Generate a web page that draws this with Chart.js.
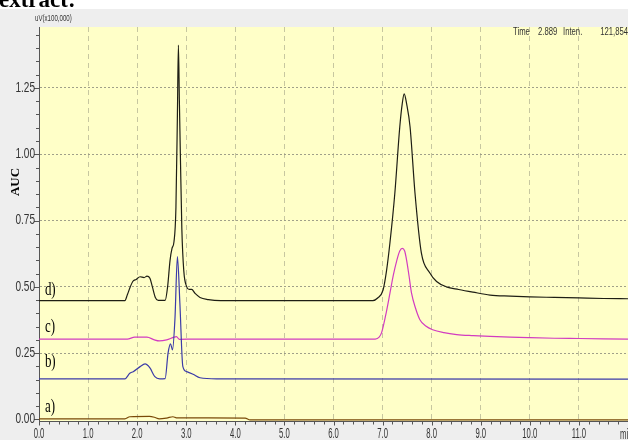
<!DOCTYPE html>
<html lang="en">
<head>
<meta charset="UTF-8">
<title>Chromatogram</title>
<script src="https://cdn.jsdelivr.net/npm/chart.js"></script>
<style>
  html, body { margin: 0; padding: 0; background: #fff; }
</style>
</head>
<body>
<canvas id="chrom" width="628" height="440"></canvas>
<script>
// retention time (min) and response (uV x100,000)
const aTime = [0, 1.75, 1.85, 2.25, 2.35, 2.45, 2.6, 2.73, 2.8, 4.2, 4.3, 12];
const aVal  = [0.002, 0.002, 0.01, 0.011, 0.008, 0.002, 0.005, 0.01, 0.006, 0.005, -0.002, -0.002];

const bTime = [0, 1.75, 1.85, 1.92, 2.06, 2.16, 2.26, 2.36, 2.46, 2.57, 2.63, 2.68, 2.72, 2.77, 2.82, 2.87, 2.93, 3.01, 3.14, 3.28, 3.62, 12];
const bVal  = [0.153, 0.153, 0.174, 0.18, 0.199, 0.209, 0.194, 0.161, 0.153, 0.154, 0.251, 0.285, 0.262, 0.38, 0.614, 0.439, 0.2, 0.18, 0.17, 0.157, 0.153, 0.152];

const cTime = [0, 1.8, 1.95, 2.2, 2.35, 2.45, 2.6, 2.75, 2.8, 2.86, 3.2, 6.85, 6.93, 6.98, 7.06, 7.15, 7.22, 7.29, 7.35, 7.4, 7.45, 7.49, 7.54, 7.59, 7.67, 7.76, 7.88, 8.02, 8.25, 8.51, 8.85, 9.19, 9.6, 10.0, 10.5, 11.0, 11.5, 12.0];
const cVal  = [0.303, 0.303, 0.31, 0.31, 0.3, 0.296, 0.3, 0.31, 0.312, 0.302, 0.303, 0.303, 0.31, 0.327, 0.39, 0.476, 0.545, 0.6, 0.635, 0.645, 0.635, 0.6, 0.54, 0.476, 0.42, 0.376, 0.352, 0.338, 0.327, 0.32, 0.316, 0.313, 0.31, 0.308, 0.306, 0.305, 0.304, 0.303];

const dTime = [0, 1.75, 1.8, 1.86, 1.91, 1.98, 2.06, 2.14, 2.2, 2.26, 2.31, 2.37, 2.43, 2.57, 2.62, 2.67, 2.71, 2.75, 2.79, 2.82, 2.84, 2.86, 2.88, 2.91, 2.95, 3.01, 3.06, 3.11, 3.18, 3.28, 3.45, 3.7,
               6.8, 6.9, 7.01, 7.08, 7.15, 7.25, 7.35, 7.4, 7.44, 7.49, 7.56, 7.66, 7.79, 7.96, 8.1, 8.3, 8.55, 8.84, 9.19, 9.6, 10.0, 10.5, 11.0, 11.5, 12.0];
const dVal  = [0.448, 0.448, 0.47, 0.5, 0.52, 0.528, 0.538, 0.535, 0.54, 0.532, 0.5, 0.46, 0.449, 0.449, 0.5, 0.6, 0.645, 0.67, 0.8, 1.15, 1.412, 1.2, 1.0, 0.72, 0.56, 0.5, 0.49, 0.49, 0.475, 0.46, 0.452, 0.448,
               0.448, 0.458, 0.488, 0.56, 0.666, 0.854, 1.103, 1.19, 1.228, 1.19, 1.103, 0.854, 0.628, 0.553, 0.52, 0.5, 0.49, 0.48, 0.469, 0.465, 0.462, 0.46, 0.458, 0.456, 0.455];

const traceNames = ['a)', 'b)', 'c)', 'd)'];
const traceLabelY = [0.047, 0.217, 0.348, 0.488];

const xTickLabels = ['0.0', '1.0', '2.0', '3.0', '4.0', '5.0', '6.0', '7.0', '8.0', '9.0', '10.0', '11.0'];
const yTickLabels = ['0.00', '0.25', '0.50', '0.75', '1.00', '1.25'];

const sans = "'Liberation Sans', Arial, sans-serif";
const serif = "'Liberation Serif', 'DejaVu Serif', serif";

const pts = (t, v) => t.map((x, i) => ({ x: x, y: v[i] }));

// minor ticks every 0.2 min and 0.05 units, labels only on the majors
function xTickValues() {
  const out = [];
  for (let k = 0; k <= 60; k++) out.push(Math.round(k * 2) / 10);
  return out;
}
function yTickValues() {
  const out = [];
  for (let k = 0; k <= 29; k++) out.push(Math.round(k * 5) / 100);
  return out;
}
const isMajorX = v => Math.abs(v - Math.round(v)) < 1e-6 && v < 12;
const isMajorY = v => Math.abs(v * 4 - Math.round(v * 4)) < 1e-6;

// the instrument software uses a condensed face, so squeeze the normal one
function narrowText(ctx, text, x, y, align, font, squeeze) {
  ctx.save();
  ctx.translate(x, y);
  ctx.scale(squeeze, 1);
  ctx.font = font;
  ctx.textAlign = align;
  ctx.textBaseline = 'middle';
  ctx.fillText(text, 0, 0);
  ctx.restore();
}

const frame = {
  id: 'frame',
  beforeDraw(chart) {
    const { ctx, chartArea: a, width, height } = chart;
    ctx.save();
    ctx.fillStyle = '#eeeeee';
    ctx.fillRect(0, 0, width, height);
    ctx.fillStyle = '#ffffff';
    ctx.fillRect(0, 0, width, 9);
    ctx.fillStyle = '#ffffc8';
    ctx.fillRect(a.left, a.top, a.right - a.left, a.bottom - a.top);
    // caption cut off by the crop
    ctx.fillStyle = '#000';
    ctx.font = 'bold 23px ' + serif;
    ctx.textBaseline = 'alphabetic';
    ctx.fillText('extract:', -1, 7);
    ctx.restore();
  },
  afterDraw(chart) {
    const { ctx, chartArea: a, scales: { x, y } } = chart;
    ctx.save();
    ctx.strokeStyle = '#555';
    ctx.lineWidth = 1;
    ctx.beginPath();
    x.ticks.forEach(t => {
      const px = Math.round(x.getPixelForValue(t.value)) + 0.5;
      ctx.moveTo(px, a.bottom);
      ctx.lineTo(px, a.bottom + (isMajorX(t.value) ? 4 : 3));
    });
    y.ticks.forEach(t => {
      const py = Math.round(y.getPixelForValue(t.value)) + 0.5;
      ctx.moveTo(a.left, py);
      ctx.lineTo(a.left - (isMajorY(t.value) ? 5 : 3), py);
    });
    ctx.stroke();

    ctx.fillStyle = '#333';
    xTickLabels.forEach((lab, i) => narrowText(ctx, lab, x.getPixelForValue(i), 434.5, 'center', '14px ' + sans, 0.55));
    yTickLabels.forEach((lab, i) => narrowText(ctx, lab, 35, y.getPixelForValue(i * 0.25), 'right', '14px ' + sans, 0.72));
    narrowText(ctx, 'uV(x100,000)', 35, 19, 'left', '9px ' + sans, 0.68);
    narrowText(ctx, 'min', 620, 435, 'left', '14px ' + sans, 0.55);
    narrowText(ctx, 'Time', 513, 32, 'left', '11px ' + sans, 0.7);
    narrowText(ctx, '2.889', 538, 32, 'left', '11px ' + sans, 0.7);
    narrowText(ctx, 'Inten.', 563, 32, 'left', '11px ' + sans, 0.7);
    narrowText(ctx, '121,854', 628, 32, 'right', '11px ' + sans, 0.7);

    ctx.fillStyle = '#000';
    traceNames.forEach((n, i) => {
      narrowText(ctx, n, x.getPixelForValue(0.12), y.getPixelForValue(traceLabelY[i]), 'left', '18px ' + serif, 0.72);
    });

    ctx.translate(16, 182);
    ctx.rotate(-Math.PI / 2);
    ctx.textAlign = 'center';
    ctx.textBaseline = 'middle';
    ctx.font = 'bold 13px ' + serif;
    ctx.fillText('AUC', 0, 0);
    ctx.restore();
  }
};

const line = (t, v, color) => ({
  data: pts(t, v),
  borderColor: color,
  borderWidth: 1.2,
  pointRadius: 0,
  cubicInterpolationMode: 'monotone',
  fill: false
});

const config = {
  type: 'line',
  data: {
    datasets: [
      line(aTime, aVal, '#7a4a08'),
      line(bTime, bVal, '#3b3ba8'),
      line(cTime, cVal, '#d23cc0'),
      line(dTime, dVal, '#1e1e14')
    ]
  },
  options: {
    responsive: false,
    animation: false,
    layout: { padding: { top: 27, right: 0, left: 0, bottom: 0 } },
    plugins: { legend: { display: false }, tooltip: { enabled: false } },
    scales: {
      x: {
        type: 'linear',
        min: 0,
        max: 12,
        afterBuildTicks: s => { s.ticks = xTickValues().map(v => ({ value: v })); },
        afterFit: s => { s.height = 18.5; },
        border: { color: '#555', width: 1, dash: [5, 4] },
        grid: {
          drawTicks: false,
          color: c => (c.tick && isMajorX(c.tick.value) && c.tick.value > 0) ? 'rgba(185,185,150,0.8)' : 'rgba(0,0,0,0)'
        },
        ticks: { display: false }
      },
      y: {
        min: -0.008,
        max: 1.48,
        afterBuildTicks: s => { s.ticks = yTickValues().map(v => ({ value: v })); },
        afterFit: s => { s.width = 39; },
        border: { color: '#555', width: 1, dash: [2, 2] },
        grid: {
          drawTicks: false,
          color: c => (c.tick && isMajorY(c.tick.value) && c.tick.value > 0) ? 'rgba(150,150,130,0.9)' : 'rgba(0,0,0,0)'
        },
        ticks: { display: false }
      }
    }
  },
  plugins: [frame]
};

new Chart(document.getElementById('chrom').getContext('2d'), config);
</script>
</body>
</html>
